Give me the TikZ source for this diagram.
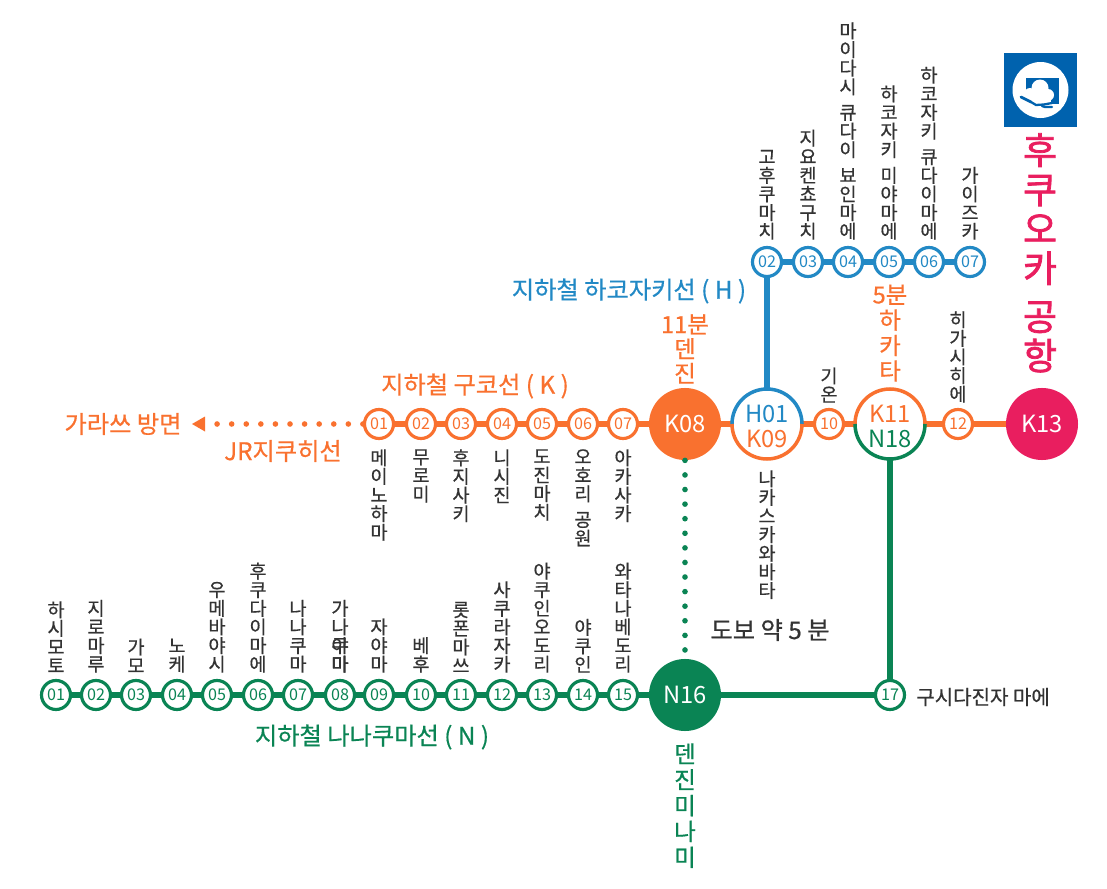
\documentclass[tikz,border=0pt]{standalone}
\usepackage{fontspec}
\setmainfont{Noto Sans CJK KR}
\newfontfamily\medfont[FakeBold=0.6]{Noto Sans CJK KR}
\newfontfamily\heavyfont[FakeBold=2]{Noto Sans CJK KR}
\definecolor{korange}{HTML}{F9712F}
\definecolor{hblue}{HTML}{2289C5}
\definecolor{ngreen}{HTML}{0A8454}
\definecolor{kpink}{HTML}{E91E5F}
\definecolor{logoblue}{HTML}{0062AE}
\definecolor{labelgray}{HTML}{333333}
\usetikzlibrary{positioning, calc, arrows.meta}
\tikzset{
	smallnode/.style={
			circle,
			draw=#1,
			text=#1,
			line width=1.8pt,
			fill=white,
			minimum size=16.5pt,
			inner sep=0pt,
			font=\fontsize{9.2}{10}\selectfont
		},
	bignode/.style={
			circle,
			fill=#1,
			text=white,
			minimum size=41pt,
			inner sep=0pt,
			font=\fontsize{13.5}{14}\selectfont
		},
	halfnode/.style={
			circle,
			fill=white,
			minimum size=41pt,
			inner sep=0pt,
			align=center,
			font=\fontsize{13.5}{14.2}\selectfont
		},
	linelabel/.style={
			text=#1,
			inner sep=0pt,
			font=\medfont\fontsize{13.8}{15}\selectfont
		},
	vertlabel/.style={
			align=center,
			text=labelgray,
			inner sep=0pt,
			font=\medfont\fontsize{10.6}{10.6}\selectfont
		},
	vertbig/.style={
			align=center,
			text=#1,
			inner sep=0pt,
			font=\medfont\fontsize{13.4}{14}\selectfont
		},
	railline/.style={
			line width=3pt,
			draw=#1
		},
	walkline/.style={
			line width=3.2pt,
			draw=#1,
			line cap=round,
			dash pattern=on 0pt off 8.3pt
		}
}

\begin{document}
\begin{tikzpicture}[x=0.02cm, y=-0.02cm]
\useasboundingbox (0,0) rectangle (1107,889);

% main stations
\node[bignode=korange] (k08) at (685,424) {K08};
\node[halfnode] (k09) at (767,424) {\rule{0pt}{12.5pt}\textcolor{hblue}{H01}\\\textcolor{korange}{K09}};
\node[smallnode=korange] (k10) at (829,424) {10};
\node[halfnode] (k11) at (890,424) {\rule{0pt}{12.5pt}\textcolor{korange}{K11}\\\textcolor{ngreen}{N18}};
\node[smallnode=korange] (k12) at (958,424) {12};
\node[bignode=kpink] (k13) at (1042,424) {K13};
\node[bignode=ngreen] (n16) at (685,695) {N16};
\node[smallnode=ngreen] (n17) at (890,695) {17};

% kuko line
\foreach \x/\n in {379/01,421/02,461/03,502/04,542/05,583/06,623/07}
	\node[smallnode=korange] (k\n) at (\x,424) {\n};
\coordinate (karatsu) at (207,424);
\foreach \a/\b in {k01/k02,k02/k03,k03/k04,k04/k05,k05/k06,k06/k07,k07/k08,k08/k09,k09/k10,k10/k11,k11/k12,k12/k13}
	\draw[railline=korange] (\a) -- (\b);
\draw[walkline=korange] (k01) -- (karatsu);
\fill[korange] (192,424) -- (205,416.5) -- (205,431.5) -- cycle;

% hakozaki line
\foreach \x/\n in {767/02,808/03,848/04,889/05,929/06,970/07}
	\node[smallnode=hblue] (h\n) at (\x,262) {\n};
\foreach \a/\b in {h02/h03,h03/h04,h04/h05,h05/h06,h06/h07}
	\draw[railline=hblue] (\a) -- (\b);
\draw[railline=hblue] (h02) -- (k09);

% nanakuma line
\foreach \x/\n in {56/01,96/02,136/03,177/04,217/05,258/06,298/07,340/08,379/09,421/10,461/11,502/12,542/13,583/14,623/15}
	\node[smallnode=ngreen] (n\n) at (\x,695) {\n};
\foreach \a/\b in {n01/n02,n02/n03,n03/n04,n04/n05,n05/n06,n06/n07,n07/n08,n08/n09,n09/n10,n10/n11,n11/n12,n12/n13,n13/n14,n14/n15,n15/n16,n16/n17}
	\draw[railline=ngreen] (\a) -- (\b);
\draw[railline=ngreen] (k11) -- (n17);
\draw[walkline=ngreen] (k08) -- (n16);

% half rings
\draw[line width=2pt, hblue] (767,424) ++(-35,0) arc (180:360:35);
\draw[line width=2pt, korange] (767,424) ++(-35,0) arc (180:0:35);
\draw[line width=2pt, korange] (890,424) ++(-35,0) arc (180:360:35);
\draw[line width=2pt, ngreen] (890,424) ++(-35,0) arc (180:0:35);

% line names
\node[linelabel=hblue] (hname) at (629,291) {지하철 하코자키선 ( H )};
\node[linelabel=korange] (kname) at (475,386) {지하철 구코선 ( K )};
\node[linelabel=ngreen] (nname) at (372,737) {지하철 나나쿠마선 ( N )};
\node[linelabel=korange] (karatsuname) at (123,424) {가라쓰 방면};
\node[linelabel=korange] (jrname) at (283,451) {JR지쿠히선};
\node[linelabel=labelgray] (walkname) at (770,630) {도보 약 5 분};
\node[vertlabel, anchor=west, font=\medfont\fontsize{11.4}{12}\selectfont] (n17name) at (916,697) {구시다진자 마에};

% big stations
\node[vertbig=korange, anchor=south] (tenjin) at (685,384) {11분\\덴\\진};
\node[vertbig=korange, anchor=south, font=\medfont\fontsize{13.4}{14.5}\selectfont] (hakata) at (890,382) {5분\\하\\카\\타};
\node[vertbig=ngreen, anchor=north, font=\medfont\fontsize{13.4}{14.7}\selectfont] (tenjinm) at (685,743) {덴\\진\\미\\나\\미};

% kuko names
\node[vertlabel, anchor=north] at (379,449) {메\\이\\노\\하\\마};
\node[vertlabel, anchor=north] at (421,449) {무\\로\\미};
\node[vertlabel, anchor=north] at (461,449) {후\\지\\사\\키};
\node[vertlabel, anchor=north] at (502,449) {니\\시\\진};
\node[vertlabel, anchor=north] at (542,449) {도\\진\\마\\치};
\node[vertlabel, anchor=north] at (583,449) {오\\호\\리\\[4pt]공\\원};
\node[vertlabel, anchor=north] at (623,449) {아\\카\\사\\카};
\node[vertlabel, anchor=north] at (767,470) {나\\카\\스\\카\\와\\바\\타};
\node[vertlabel, anchor=south] at (829,403) {기\\온};
\node[vertlabel, anchor=south] at (958,403) {히\\가\\시\\히\\에};

% hakozaki names
\node[vertlabel, anchor=south] at (767,240) {고\\후\\쿠\\마\\치};
\node[vertlabel, anchor=south] at (808,240) {지\\요\\켄\\쵸\\구\\치};
\node[vertlabel, anchor=south] at (848,240) {마\\이\\다\\시\\[4pt]큐\\다\\이\\[4pt]뵤\\인\\마\\에};
\node[vertlabel, anchor=south] at (889,240) {하\\코\\자\\키\\[4pt]미\\야\\마\\에};
\node[vertlabel, anchor=south] at (929,240) {하\\코\\자\\키\\[4pt]큐\\다\\이\\마\\에};
\node[vertlabel, anchor=south] at (970,240) {가\\이\\즈\\카};

% nanakuma names
\node[vertlabel, anchor=south] at (56,673) {하\\시\\모\\토};
\node[vertlabel, anchor=south] at (96,673) {지\\로\\마\\루};
\node[vertlabel, anchor=south] at (136,673) {가\\모};
\node[vertlabel, anchor=south] at (177,673) {노\\케};
\node[vertlabel, anchor=south] at (217,673) {우\\메\\바\\야\\시};
\node[vertlabel, anchor=south] at (258,673) {후\\쿠\\다\\이\\마\\에};
\node[vertlabel, anchor=south] at (298,673) {나\\나\\쿠\\마};
\node[vertlabel, anchor=south] at (340,673) {가\\나\\야\\마};
\node[vertlabel, anchor=south] at (340,673) {쿠\\마};
\node[vertlabel, anchor=south] at (379,673) {자\\야\\마};
\node[vertlabel, anchor=south] at (421,673) {베\\후};
\node[vertlabel, anchor=south] at (461,673) {롯\\폰\\마\\쓰};
\node[vertlabel, anchor=south] at (502,673) {사\\쿠\\라\\자\\카};
\node[vertlabel, anchor=south] at (542,673) {야\\쿠\\인\\오\\도\\리};
\node[vertlabel, anchor=south] at (583,673) {야\\쿠\\인};
\node[vertlabel, anchor=south] at (623,673) {와\\타\\나\\베\\도\\리};

% airport
\fill[logoblue] (1004,53) rectangle (1077,127);
\fill[white] (1040.5,90) circle (28);
\fill[logoblue] (1026,78) rectangle (1059,104);
\fill[white] (1025,90) rectangle (1030,106);
\fill[white] (1030,94) circle (6);
\fill[white] (1040,88) circle (8.5);
\fill[white] (1048,95) circle (6);
\fill[white] (1030,95) rectangle (1051,106);
\draw[logoblue, line width=1.6pt, line cap=round] (1021,97) -- (1031,102);
\draw[logoblue, line width=1.3pt, line cap=round] (1031,102) -- (1036,105) -- (1044,104.5) -- (1052,103);
\draw[logoblue, line width=1.3pt, line cap=round] (1042,106) -- (1045,107) -- (1052,107);
\node[align=center, inner sep=0pt, text=kpink, anchor=north, font=\heavyfont\fontsize{21}{22.4}\selectfont] (fukuoka) at (1040,133) {후\\쿠\\오\\카\\[5pt]공\\항};
\end{tikzpicture}
\end{document}
